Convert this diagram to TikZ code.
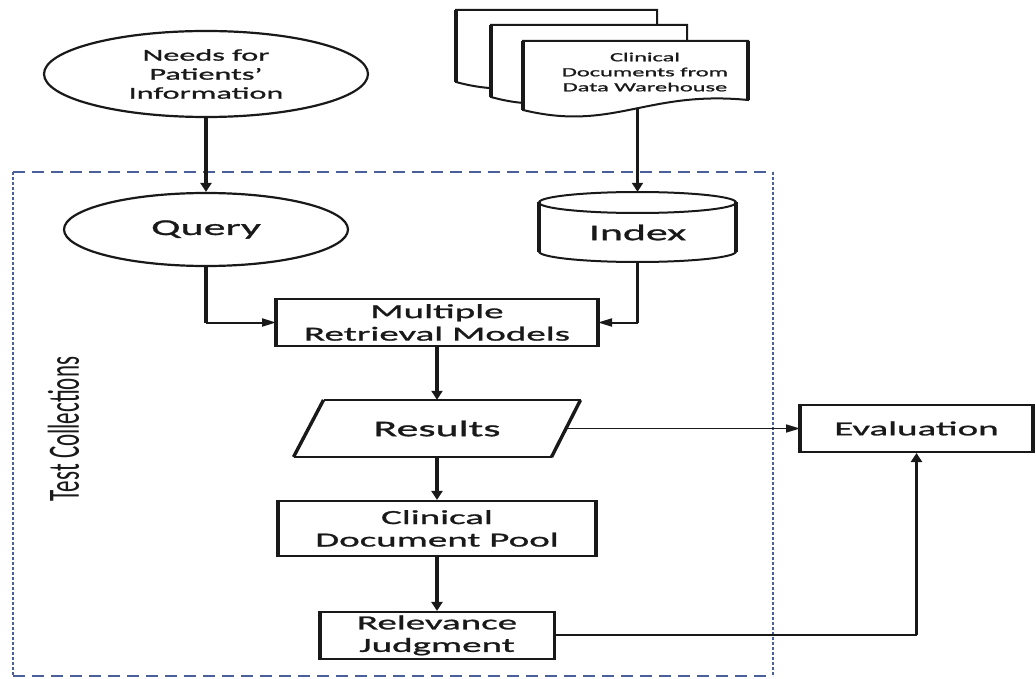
\documentclass[tikz,border=0pt]{standalone}
\usepackage{fontspec}
\usepackage{graphicx}
\setmainfont{Carlito}
\newfontfamily\wf[FakeStretch=1.95,FakeBold=1.2]{Carlito}
\usetikzlibrary{arrows.meta,shapes.geometric}
\definecolor{dashblue}{RGB}{75,95,155}
\definecolor{ink}{RGB}{25,25,25}
\begin{document}
\begin{tikzpicture}[x=1pt,y=-1pt,
  every node/.style={text=ink},
  box/.style={draw=ink, line width=2pt, rectangle, inner sep=0pt, align=center},
  oval/.style={draw=ink, line width=2.2pt, ellipse, inner sep=0pt, align=center},
  vline/.style={draw=ink, line width=3.4pt},
  hline/.style={draw=ink, line width=2pt},
  vconn/.style={draw=ink, line width=3.4pt, -{Triangle[length=9pt,width=11pt]}},
  hconn/.style={draw=ink, line width=2pt, -{Triangle[length=14pt,width=8pt]}},
  thinconn/.style={draw=ink, line width=1.6pt, -{Triangle[length=14pt,width=8pt]}},
  page/.style={draw=ink, line width=2pt, fill=white},
  lbl/.style={font=\wf\fontsize{20}{22.5}\selectfont},
  big/.style={font=\wf\fontsize{22.5}{25}\selectfont},
  bhoriz/.style={draw=dashblue, line width=1.4pt, dash pattern=on 12pt off 7pt},
  bvert/.style={draw=dashblue, line width=2.5pt, dash pattern=on 3pt off 2pt}
]
\useasboundingbox (0,0) rectangle (1036,679);

% dashed frame "Test Collections"
\draw[bhoriz] (13,172) -- (773,172);
\draw[bhoriz] (13,676) -- (773,676);
\draw[bvert] (13,172) -- (13,676);
\draw[bvert] (773,172) -- (773,676);
\node[rotate=90, font=\fontsize{23}{25}\selectfont] (tc) at (63.5,429) {\scalebox{1}[1.95]{Test Collections}};

% stacked documents
\draw[page] (456,10) -- (657,10) -- (657,72) .. controls (566.6,62) and (536.4,104) .. (456,82) -- cycle;
\draw[vline] (456,10) -- (456,82);
\draw[page] (491,25) -- (687,25) -- (687,87) .. controls (598.8,77) and (569.4,119) .. (491,97) -- cycle;
\draw[vline] (491,25) -- (491,97);
\draw[page] (523,41) -- (748,41) -- (748,100) .. controls (646.75,90) and (613,132) .. (523,110) -- cycle;
\draw[vline] (523,41) -- (523,110);
\draw[vline] (748,41) -- (748,100);
\node[font=\wf\fontsize{12.5}{15}\selectfont, align=center] (doctext) at (645,72) {Clinical\\Documents from\\Data Warehouse};
\coordinate (docbot) at (637.5,109);

% needs and query
\node[oval, minimum width=324pt, minimum height=86pt, font=\wf\fontsize{16.5}{19}\selectfont] (needs) at (206,74) {Needs for\\Patients’\\Information};
\node[oval, minimum width=284pt, minimum height=73pt, big] (query) at (206,229.5) {Query};

% index cylinder
\node[minimum width=197pt, minimum height=70pt, inner sep=0pt] (idx) at (637.5,227) {};
\draw[draw=ink, line width=2pt] (539,251.5) arc[start angle=180, end angle=360, x radius=98.5pt, y radius=10.5pt];
\draw[draw=ink, line width=2pt] (637.5,202.5) ellipse [x radius=98.5pt, y radius=10.5pt];
\draw[vline] (539,202.5) -- (539,251.5);
\draw[vline] (736,202.5) -- (736,251.5);
\node[big] (idxlabel) at (637.5,232.5) {Index};

% process boxes
\node[box, minimum width=320pt, minimum height=47pt, lbl] (mrm) at (437,322.5) {Multiple\\Retrieval Models};
\draw[hline] (323.5,400) -- (580.5,400);
\draw[hline] (551.5,457) -- (293.5,457);
\draw[vline] (580.5,400) -- (551.5,457);
\draw[vline] (293.5,457) -- (323.5,400);
\node[minimum width=258pt, minimum height=57pt, inner sep=0pt, big] (res) at (437,428.5) {Results};
\node[box, minimum width=316pt, minimum height=55pt, lbl] (pool) at (437,528.4) {Clinical\\Document Pool};
\node[box, minimum width=233pt, minimum height=47pt, lbl] (rel) at (437,635.4) {Relevance\\Judgment};
\node[box, minimum width=231pt, minimum height=47pt, lbl] (eval) at (916.5,428.5) {Evaluation};
\foreach \n in {mrm,pool,rel,eval}{
  \draw[vline] (\n.north west) -- (\n.south west);
  \draw[vline] (\n.north east) -- (\n.south east);
}

% connectors
\draw[vconn] (needs) -- (query);
\draw[vconn] (docbot) -- (idx.north);
\draw[vline] (query.south) -- (query.south |- mrm.west);
\draw[hconn] (query.south |- mrm.west) -- (mrm.west);
\draw[vline] (idx.south) -- (idx.south |- mrm.east);
\draw[hconn] (idx.south |- mrm.east) -- (mrm.east);
\draw[vconn] (mrm) -- (res);
\draw[vconn] (res) -- (pool);
\draw[vconn] (pool) -- (rel);
\draw[thinconn] (res.east) -- (eval.west);
\draw[hline] (rel.east) -- (rel.east -| eval.south);
\draw[vconn] (rel.east -| eval.south) -- (eval.south);
\end{tikzpicture}
\end{document}
